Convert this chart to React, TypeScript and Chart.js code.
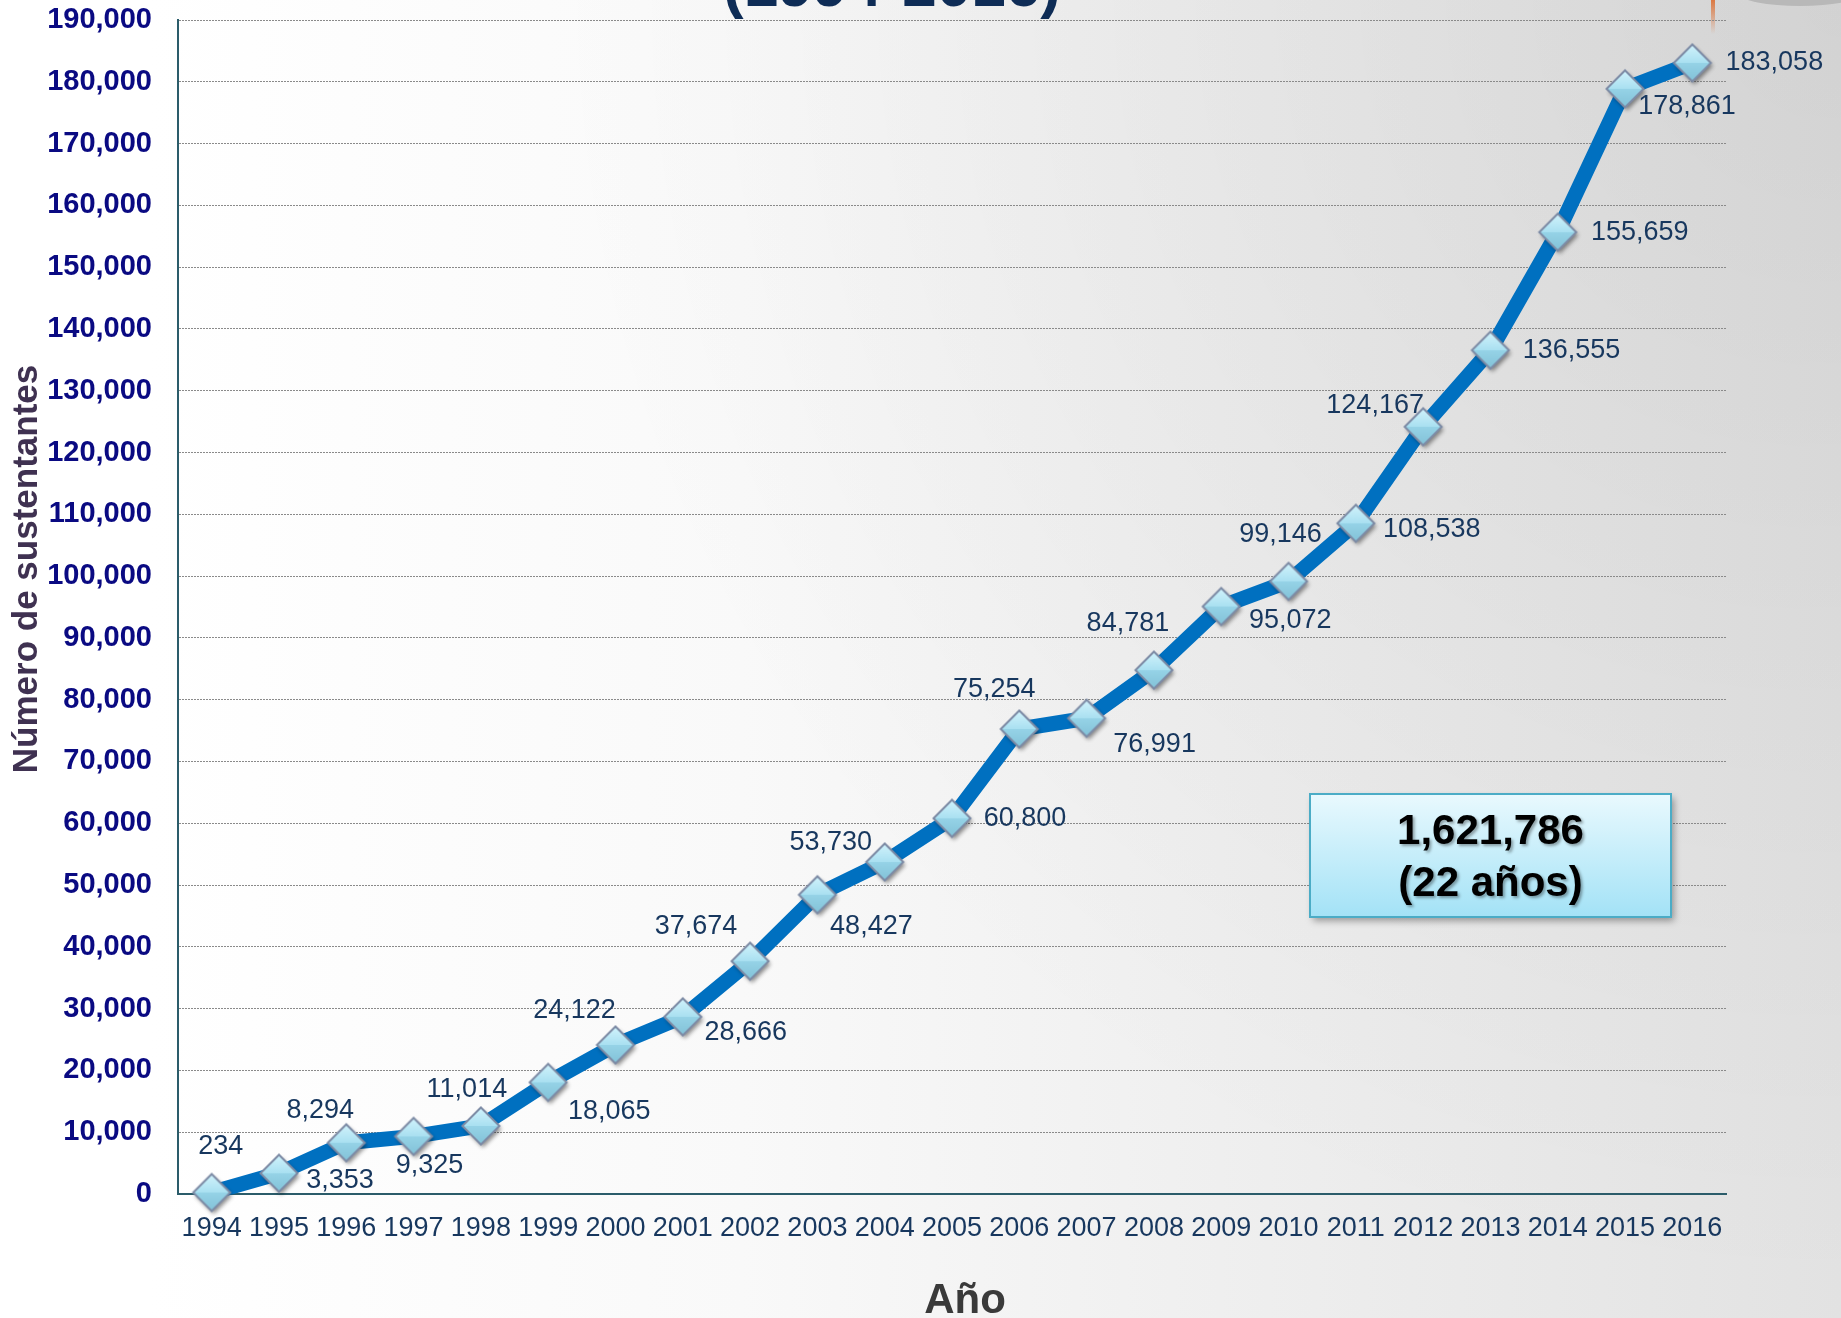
import React, { useEffect, useRef } from 'react';
import { Chart, registerables } from 'chart.js';

Chart.register(...registerables);

// ---------- data ----------
const years = ['1994', '1995', '1996', '1997', '1998', '1999', '2000', '2001', '2002', '2003', '2004', '2005', '2006', '2007', '2008', '2009', '2010', '2011', '2012', '2013', '2014', '2015', '2016'];
const sustentantes = [234, 3353, 8294, 9325, 11014, 18065, 24122, 28666, 37674, 48427, 53730, 60800, 75254, 76991, 84781, 95072, 99146, 108538, 124167, 136555, 155659, 178861, 183058];
const yMin = 0;
const yMax = 190000;
const yStep = 10000;
const titleText = '(1994-2016)';
const yTitle = 'Número de sustentantes';
const xTitle = 'Año';
const periodLabel = '(22 años)';

// label placement relative to each point (px)
const labelOffsets: [number, number][] = [
  [9, -46], [61, 7], [-26, -32], [16, 29], [-14, -36], [61, 29], [-41, -34], [63, 16],
  [-54, -35], [54, 32], [-54, -19], [73, 0], [-25, -39], [68, 26], [-26, -47], [69, 14],
  [-8, -47], [76, 6], [-48, -21], [81, 0], [82, 0], [62, 18], [82, 0],
];

const W = 1841;
const H = 1318;
const FONT = "'Liberation Sans', Arial, Helvetica, sans-serif";

function fmt(n: number) {
  return n.toLocaleString('en-US');
}

function makeMarker(): HTMLCanvasElement {
  const c = document.createElement('canvas');
  c.width = 52;
  c.height = 52;
  const g = c.getContext('2d')!;
  const cx = 26, cy = 26, r = 18.5;
  const path = () => {
    g.beginPath();
    g.moveTo(cx - r, cy);
    g.lineTo(cx, cy - r);
    g.lineTo(cx + r, cy);
    g.lineTo(cx, cy + r);
    g.closePath();
  };
  g.save();
  g.shadowColor = 'rgba(0,0,0,0.45)';
  g.shadowBlur = 4;
  g.shadowOffsetX = 2;
  g.shadowOffsetY = 3;
  path();
  g.fillStyle = '#8fcde0';
  g.fill();
  g.restore();
  g.save();
  path();
  g.clip();
  const top = g.createLinearGradient(0, cy - r, 0, cy);
  top.addColorStop(0, '#d2f3fc');
  top.addColorStop(1, '#a9e0f1');
  g.fillStyle = top;
  g.fillRect(cx - r, cy - r, 2 * r, r);
  const bot = g.createLinearGradient(0, cy, 0, cy + r);
  bot.addColorStop(0, '#96d3e7');
  bot.addColorStop(1, '#82c2d8');
  g.fillStyle = bot;
  g.fillRect(cx - r, cy, 2 * r, r);
  g.restore();
  path();
  g.strokeStyle = '#7d8ba5';
  g.lineWidth = 2;
  g.stroke();
  return c;
}

const backgroundPlugin = {
  id: 'slideBackground',
  beforeDraw(chart: any) {
    const ctx = chart.ctx as CanvasRenderingContext2D;
    ctx.save();
    const lg = ctx.createLinearGradient(150, 0, W, 0);
    lg.addColorStop(0, '#ffffff');
    lg.addColorStop(0.35, '#f9f9f9');
    lg.addColorStop(1, '#e2e2e2');
    ctx.fillStyle = lg;
    ctx.fillRect(0, 0, W, H);
    const rg = ctx.createRadialGradient(W, 0, 0, W, 0, 1300);
    rg.addColorStop(0, 'rgba(0,0,0,0.07)');
    rg.addColorStop(1, 'rgba(0,0,0,0)');
    ctx.fillStyle = rg;
    ctx.fillRect(0, 0, W, H);
    const og = ctx.createLinearGradient(0, 0, 0, 34);
    og.addColorStop(0, 'rgba(220,110,50,0.9)');
    og.addColorStop(1, 'rgba(220,110,50,0)');
    ctx.fillStyle = og;
    ctx.fillRect(1711, 0, 4, 34);
    ctx.beginPath();
    ctx.ellipse(1800, -6, 60, 12, 0, 0, Math.PI * 2);
    ctx.fillStyle = '#b8b8b8';
    ctx.fill();
    ctx.fillStyle = '#0e2c56';
    ctx.font = `bold 62px ${FONT}`;
    ctx.textAlign = 'center';
    ctx.textBaseline = 'alphabetic';
    ctx.fillText(titleText, 892, 6);
    ctx.restore();
  },
};

const overlayPlugin = {
  id: 'overlay',
  afterDatasetsDraw(chart: any) {
    const ctx = chart.ctx as CanvasRenderingContext2D;
    const meta = chart.getDatasetMeta(0);
    ctx.save();
    ctx.font = `27px ${FONT}`;
    ctx.fillStyle = '#17375e';
    ctx.textAlign = 'center';
    ctx.textBaseline = 'middle';
    meta.data.forEach((pt: any, i: number) => {
      const [dx, dy] = labelOffsets[i] || [0, -30];
      ctx.fillText(fmt(sustentantes[i]), pt.x + dx, pt.y + dy);
    });

    ctx.save();
    ctx.translate(27, 569);
    ctx.rotate(-Math.PI / 2);
    ctx.font = `bold 35px ${FONT}`;
    ctx.fillStyle = '#3f3151';
    ctx.textAlign = 'center';
    ctx.textBaseline = 'middle';
    ctx.fillText(yTitle, 0, 0);
    ctx.restore();

    ctx.font = `bold 42px ${FONT}`;
    ctx.fillStyle = '#3a3a3a';
    ctx.textAlign = 'center';
    ctx.textBaseline = 'alphabetic';
    ctx.fillText(xTitle, 965, 1313);

    const bx = 1310, by = 794, bw = 361, bh = 123;
    ctx.save();
    ctx.shadowColor = 'rgba(0,0,0,0.35)';
    ctx.shadowBlur = 7;
    ctx.shadowOffsetX = 3;
    ctx.shadowOffsetY = 4;
    const bg = ctx.createLinearGradient(0, by, 0, by + bh);
    bg.addColorStop(0, '#e9f9fe');
    bg.addColorStop(1, '#a3e2f6');
    ctx.fillStyle = bg;
    ctx.fillRect(bx, by, bw, bh);
    ctx.restore();
    ctx.strokeStyle = '#4bacc6';
    ctx.lineWidth = 2;
    ctx.strokeRect(bx, by, bw, bh);

    const total = sustentantes.reduce((a, b) => a + b, 0);
    ctx.save();
    ctx.shadowColor = 'rgba(0,0,0,0.35)';
    ctx.shadowBlur = 3;
    ctx.shadowOffsetX = 2;
    ctx.shadowOffsetY = 2;
    ctx.font = `bold 42px ${FONT}`;
    ctx.fillStyle = '#000000';
    ctx.textAlign = 'center';
    ctx.textBaseline = 'middle';
    ctx.fillText(fmt(total), bx + bw / 2, 832);
    ctx.fillText(periodLabel, bx + bw / 2, 884);
    ctx.restore();

    ctx.restore();
  },
};

export default function App() {
  const ref = useRef<HTMLCanvasElement | null>(null);

  useEffect(() => {
    document.body.style.margin = '0';
    const canvas = ref.current!;
    const marker = makeMarker();
    const chart = new Chart(canvas, {
      type: 'line',
      data: {
        labels: years,
        datasets: [
          {
            data: sustentantes,
            borderColor: '#0070c0',
            borderWidth: 15,
            borderJoinStyle: 'round',
            borderCapStyle: 'round',
            tension: 0,
            fill: false,
            pointStyle: marker as any,
            pointRadius: 18,
            pointHoverRadius: 18,
            clip: false as any,
          },
        ],
      },
      options: {
        responsive: false,
        animation: false,
        devicePixelRatio: 1,
        events: [],
        layout: { autoPadding: false, padding: { left: 0, right: 115, top: 20, bottom: 0 } },
        plugins: {
          legend: { display: false },
          tooltip: { enabled: false },
          title: { display: false },
        },
        scales: {
          x: {
            type: 'category',
            offset: true,
            grid: { display: false, drawTicks: false },
            border: { display: true, color: '#2b5c6a', width: 2 },
            ticks: {
              color: '#17375e',
              font: { family: FONT, size: 27 },
              padding: 18,
              maxRotation: 0,
              autoSkip: false,
            },
            afterFit(scale: any) {
              scale.height = 124;
              scale.paddingLeft = 0;
              scale.paddingRight = 0;
            },
          },
          y: {
            min: yMin,
            max: yMax,
            grid: { color: '#8a8a8a', lineWidth: 1, drawTicks: false },
            border: { display: true, color: '#2b5c6a', width: 2, dash: [2, 1] },
            ticks: {
              stepSize: yStep,
              color: '#0a0a82',
              font: { family: FONT, size: 29, weight: 'bold' },
              padding: 26,
              callback: (v: any) => fmt(Number(v)),
            },
            afterFit(scale: any) {
              scale.width = 178;
              scale.paddingTop = 0;
              scale.paddingBottom = 0;
            },
          },
        },
      },
      plugins: [backgroundPlugin, overlayPlugin],
    });
    return () => chart.destroy();
  }, []);

  return (
    <div style={{ width: W, height: H, position: 'relative' }}>
      <canvas ref={ref} width={W} height={H} style={{ display: 'block' }} />
    </div>
  );
}
